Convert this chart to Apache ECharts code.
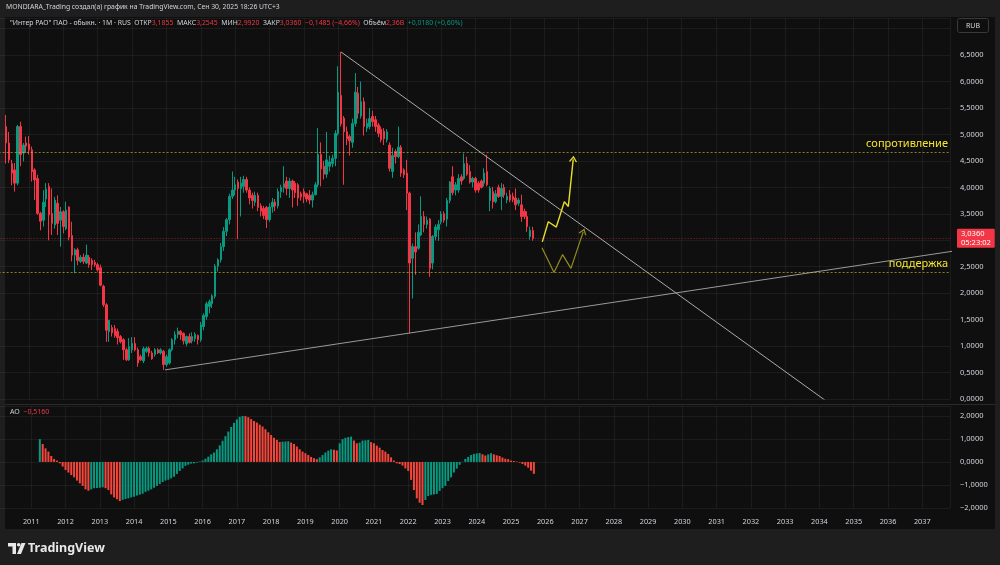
<!DOCTYPE html>
<html>
<head>
<meta charset="utf-8">
<script src="https://cdn.jsdelivr.net/npm/echarts@6/dist/echarts.min.js"></script>
<style>
  html, body { margin: 0; padding: 0; background: #1e1e1e; overflow: hidden; }
  /* сдвиг на 6px влево: сетка начинается чуть левее края окна */
  #chart { position: absolute; left: -6px; top: 0; width: 1006px; height: 565px; }
</style>
</head>
<body>
<div id="chart"></div>
<script>
// первая свеча — май 2010, шаг 1 месяц
const startYear = 2010, startMonth = 5;

const open = [
  5.15,4.84,4.45,4.33,4.08,5.15,4.65,4.84,
  4.82,4.71,4.33,4.17,3.51,3.38,3.78,4.02,3.51,3.29,3.70,3.38,
  3.54,3.22,3.63,3.09,2.72,2.82,2.60,2.68,2.57,2.68,2.62,2.58,
  2.54,2.48,2.13,1.78,1.27,1.35,1.33,1.28,1.18,1.12,0.93,0.74,
  0.93,1.05,0.93,0.80,0.72,0.90,0.96,0.87,0.84,0.93,0.87,0.90,
  0.65,0.68,0.93,1.12,1.22,1.28,1.24,1.05,1.18,1.10,1.14,1.20,
  1.12,1.37,1.56,1.75,1.80,1.94,2.51,2.63,2.88,3.17,3.39,3.83,
  3.95,4.10,3.98,4.02,4.15,3.95,3.85,3.72,3.85,3.65,3.60,3.62,
  3.39,3.63,3.72,3.65,3.92,4.00,4.12,3.98,4.12,4.08,4.05,3.88,
  3.92,3.88,3.85,3.76,3.86,4.05,4.62,4.40,4.25,4.40,4.45,4.55,
  5.02,5.74,5.31,5.05,4.96,4.85,5.21,5.78,5.35,5.62,5.12,5.15,
  5.34,5.28,5.18,5.10,5.06,4.90,4.80,4.30,4.68,4.58,4.76,4.33,
  4.27,3.89,2.66,2.88,2.85,3.10,3.45,3.30,3.40,2.57,3.07,3.20,
  3.35,3.50,3.40,3.75,4.20,3.95,3.95,4.20,4.17,4.45,4.30,4.10,
  4.17,4.08,4.12,4.08,4.30,3.75,3.92,3.73,4.00,3.83,4.00,3.76,
  3.86,3.83,3.80,3.70,3.67,3.55,3.45,3.07,3.1855
];
const high = [
  5.37,5.05,4.52,4.46,5.18,5.24,4.84,4.96,
  4.97,4.77,4.36,4.24,3.54,3.95,4.08,4.08,3.98,3.82,3.85,3.63,
  3.57,3.73,3.64,3.35,2.85,2.86,2.72,2.75,2.92,2.72,2.66,2.63,
  2.57,2.54,2.16,1.81,1.49,1.40,1.40,1.33,1.21,1.15,0.97,1.15,
  1.17,1.17,0.97,0.84,0.99,0.99,0.99,0.91,0.96,0.96,0.96,0.93,
  0.84,0.96,1.15,1.28,1.35,1.30,1.26,1.20,1.24,1.26,1.26,1.22,
  1.46,1.62,1.84,1.88,1.98,2.55,2.66,2.95,3.25,3.42,3.88,4.30,
  4.20,4.15,4.20,4.22,4.20,4.00,3.90,3.92,3.90,3.70,3.65,3.65,
  3.70,3.80,3.78,3.98,4.05,4.40,4.20,4.18,4.15,4.12,4.08,3.92,
  3.98,3.90,3.95,3.92,4.10,5.12,4.85,4.50,5.05,4.60,4.62,5.08,
  6.29,6.56,5.35,5.15,5.00,5.30,6.16,5.90,6.00,5.70,5.30,5.50,
  5.45,5.35,5.22,5.15,5.12,5.10,4.85,4.75,4.72,5.15,4.80,4.36,
  4.52,3.92,2.94,3.15,3.30,3.83,3.55,3.45,3.42,3.10,3.30,3.38,
  3.55,3.55,3.80,4.12,4.40,4.10,4.25,4.25,4.64,4.58,4.42,4.20,
  4.20,4.12,4.15,4.36,4.62,4.02,4.01,3.95,4.05,4.08,4.06,3.90,
  3.95,3.90,3.98,3.80,3.86,3.60,3.55,3.26,3.2545
];
const low = [
  4.45,4.46,4.04,3.92,4.04,4.40,4.49,4.65,
  4.62,4.11,3.76,3.48,3.19,3.26,3.63,3.00,3.10,3.22,3.10,2.88,
  3.13,3.19,3.00,2.60,2.38,2.53,2.57,2.55,2.55,2.48,2.44,2.50,
  2.41,2.13,1.74,1.08,1.08,1.18,1.16,1.03,1.05,0.74,0.72,0.72,
  0.87,0.90,0.61,0.72,0.68,0.87,0.80,0.74,0.80,0.85,0.84,0.55,
  0.61,0.65,0.90,1.03,1.15,1.12,1.03,1.00,1.05,1.05,1.08,1.03,
  1.08,1.30,1.50,1.62,1.72,1.90,2.41,2.58,2.80,3.08,3.30,3.78,
  3.85,3.02,3.45,3.90,3.90,3.68,3.60,3.65,3.55,3.45,3.40,3.23,
  3.35,3.52,3.55,3.60,3.80,3.90,3.85,3.80,3.62,3.80,3.65,3.75,
  3.70,3.72,3.68,3.62,3.85,4.00,4.02,4.15,4.18,4.30,4.38,4.40,
  4.98,5.15,4.05,4.80,4.60,4.75,5.15,5.30,5.30,4.98,5.05,5.10,
  5.15,5.05,4.95,4.85,4.80,4.85,4.30,4.18,4.45,4.55,4.20,4.18,
  3.57,1.24,1.90,2.35,2.82,3.08,3.15,3.22,2.31,2.45,3.00,2.99,
  3.30,3.33,3.26,3.70,3.85,3.85,3.90,4.05,4.14,4.22,4.07,4.00,
  3.90,3.90,3.98,4.02,4.02,3.55,3.60,3.70,3.80,3.57,3.80,3.70,
  3.72,3.72,3.57,3.65,3.35,3.40,3.16,3.01,2.992
];
const close = [
  4.84,4.52,4.27,4.08,5.15,4.62,4.80,4.78,
  4.71,4.30,4.14,3.51,3.36,3.72,3.97,3.48,3.32,3.76,3.32,3.54,
  3.26,3.57,3.06,2.72,2.82,2.62,2.68,2.60,2.72,2.54,2.54,2.54,
  2.44,2.15,1.78,1.30,1.49,1.25,1.20,1.16,1.08,0.93,0.74,0.99,
  1.05,0.93,0.68,0.74,0.95,0.96,0.87,0.76,0.93,0.87,0.93,0.65,
  0.80,0.93,1.12,1.22,1.28,1.22,1.10,1.18,1.07,1.18,1.22,1.12,
  1.40,1.58,1.80,1.84,1.95,2.51,2.63,2.88,3.17,3.39,3.83,3.95,
  4.05,3.98,4.08,4.15,3.95,3.80,3.75,3.85,3.62,3.55,3.47,3.39,
  3.63,3.72,3.65,3.92,4.00,4.07,3.98,4.12,3.95,3.90,3.80,3.82,
  3.83,3.78,3.76,3.86,4.05,4.62,4.35,4.25,4.52,4.48,4.55,5.02,
  5.80,5.20,5.05,4.92,4.88,5.21,5.80,5.40,5.62,5.15,5.21,5.30,
  5.24,5.15,5.02,4.90,4.92,5.05,4.36,4.60,4.58,4.76,4.27,4.24,
  3.89,2.57,2.88,2.78,3.15,3.45,3.30,3.38,2.47,3.07,3.25,3.30,
  3.50,3.38,3.75,4.10,3.90,4.05,4.17,4.12,4.45,4.25,4.10,4.17,
  3.95,3.95,4.00,4.27,4.05,3.98,3.73,3.88,3.83,3.98,3.86,3.83,
  3.76,3.77,3.67,3.76,3.45,3.45,3.26,3.19,3.036
];

// AO начинается с апреля 2011 (11 свечей после первой)
const aoStart = 11;
const aoValues = [
  0.99,0.78,0.59,0.45,0.26,0.13,0.06,-0.06,-0.20,
  -0.35,-0.46,-0.57,-0.67,-0.81,-0.93,-1.04,-1.19,-1.25,-1.19,-1.14,-1.13,
  -1.12,-1.10,-1.14,-1.22,-1.41,-1.54,-1.62,-1.70,-1.65,-1.61,-1.58,-1.54,
  -1.51,-1.46,-1.42,-1.38,-1.30,-1.25,-1.19,-1.12,-1.04,-0.96,-0.87,-0.81,
  -0.77,-0.71,-0.64,-0.52,-0.39,-0.28,-0.17,-0.12,-0.07,-0.06,-0.03,0.02,
  0.06,0.14,0.23,0.33,0.41,0.55,0.72,0.92,1.12,1.32,1.52,1.70,
  1.85,1.96,2.00,1.99,1.94,1.86,1.78,1.71,1.62,1.54,1.42,1.29,
  1.17,1.05,0.96,0.87,0.88,0.89,0.90,0.84,0.78,0.67,0.55,0.45,
  0.38,0.30,0.22,0.16,0.12,0.20,0.30,0.41,0.49,0.55,0.53,0.50,
  0.81,0.99,1.05,1.08,1.10,0.93,0.81,0.84,0.93,0.94,0.96,0.86,
  0.81,0.71,0.62,0.52,0.45,0.35,0.20,0.06,-0.06,-0.09,-0.16,-0.28,
  -0.39,-0.78,-1.22,-1.58,-1.77,-1.87,-1.65,-1.48,-1.43,-1.41,-1.39,-1.26,
  -1.14,-1.04,-0.83,-0.67,-0.46,-0.29,-0.12,0.01,0.13,0.22,0.30,0.35,
  0.37,0.39,0.33,0.28,0.33,0.38,0.33,0.29,0.26,0.19,0.14,0.12,
  0.06,0.04,0.02,-0.03,-0.09,-0.16,-0.25,-0.38,-0.516
];

// уровни и рисунки (x — год с долями)
const resistance = 4.66, support = 2.3905, lastPrice = 3.036;
const trendDown = [[2020.083, 6.56], [2034.317, -0.09]];
const trendUp = [[2014.958, 0.55], [2039.18, 2.92]];
const scenarioUp = [[2025.942, 2.97], [2026.117, 3.35], [2026.35, 3.25], [2026.583, 3.73], [2026.70, 3.64], [2026.842, 4.53]];
const scenarioDown = [[2025.933, 2.86], [2026.283, 2.39], [2026.533, 2.73], [2026.775, 2.47], [2027.133, 3.16]];

const UP = '#089981', DOWN = '#f23645', AO_DOWN = '#f5463b';
const TEXT = '#d1d4dc', GRIDC = 'rgba(255,255,255,0.055)';
const FONT = 'Noto Sans';
const YEL = '#f5e52e';
const DX = 6; // сдвиг контейнера

const monthX = i => startYear + (startMonth - 1 + i) / 12;
const candles = close.map((c, i) => [monthX(i), open[i], c, low[i], high[i]]);
const ao = aoValues.map((v, k) => [monthX(aoStart + k), v]);
const comma = (v, d) => v.toFixed(d).replace('.', ',').replace('-', '\u2212');

function arrowTip(pts, rot, color) {
  const d = pts.map(p => p.slice());
  const last = d.pop();
  d.push({
    value: last, symbol: 'path://M0,7L5,0L10,7', symbolSize: [7, 5], symbolRotate: rot,
    itemStyle: { color: 'rgba(0,0,0,0)', borderColor: color, borderWidth: 1.2 }
  });
  return d;
}

const xBase = {
  type: 'value', min: 2010, max: 2037.81, interval: 1,
  axisLine: { show: false }, axisTick: { show: false },
  splitLine: { show: true, lineStyle: { color: GRIDC } }
};
const yBase = {
  type: 'value', position: 'right',
  axisLine: { show: false }, axisTick: { show: false },
  splitLine: { show: true, lineStyle: { color: GRIDC } }
};

const chart = echarts.init(document.getElementById('chart'));
chart.setOption({
  animation: false,
  backgroundColor: '#0f0f0f',
  textStyle: { fontFamily: FONT },
  title: [
    {
      text: 'MONDIARA_Trading создал(а) график на TradingView.com, Сен 30, 2025 18:26 UTC+3',
      left: 6 + DX, top: 4, padding: 0,
      textStyle: { color: TEXT, fontSize: 6.8, fontWeight: 'normal', fontFamily: FONT }
    },
    {
      text: '{w|"Интер РАО" ПАО - обыкн. · 1M · RUS}  {w|ОТКР}{r|3,1855}  {w|МАКС}{r|3,2545}  {w|МИН}{r|2,9920}  {w|ЗАКР}{r|3,0360}  {r|\u22120,1485 (\u22124,66%)}  {w|Объём}{r|2,36B}  {g|+0,0180 (+0,60%)}',
      left: 10 + DX, top: 20, padding: 0,
      textStyle: {
        fontSize: 6.9, fontWeight: 'normal', color: TEXT, fontFamily: FONT,
        rich: {
          w: { color: TEXT, fontSize: 6.9, fontFamily: FONT },
          r: { color: DOWN, fontSize: 6.9, fontFamily: FONT },
          g: { color: UP, fontSize: 6.9, fontFamily: FONT }
        }
      }
    },
    {
      text: '{w|AO}  {r|\u22120,5160}',
      left: 10 + DX, top: 408, padding: 0,
      textStyle: {
        fontSize: 7, fontWeight: 'normal', fontFamily: FONT,
        rich: {
          w: { color: TEXT, fontSize: 7, fontFamily: FONT },
          r: { color: DOWN, fontSize: 7, fontFamily: FONT }
        }
      }
    }
  ],
  graphic: [
    { type: 'rect', z: -10, silent: true, shape: { x: 0, y: 0, width: 1006, height: 17 }, style: { fill: '#1e1e1e' } },
    { type: 'rect', z: -10, silent: true, shape: { x: 0, y: 529, width: 1006, height: 36 }, style: { fill: '#1e1e1e' } },
    { type: 'rect', z: -10, silent: true, shape: { x: 0, y: 0, width: 5 + DX, height: 565 }, style: { fill: '#1e1e1e' } },
    { type: 'rect', z: -10, silent: true, shape: { x: 995 + DX, y: 0, width: 5, height: 565 }, style: { fill: '#1e1e1e' } },
    { type: 'line', silent: true, shape: { x1: 5 + DX, y1: 404.5, x2: 995 + DX, y2: 404.5 }, style: { stroke: '#2a2a2a', lineWidth: 1 } },
    { type: 'rect', silent: true, shape: { x: 957.5 + DX, y: 18.5, width: 31, height: 14, r: 2 }, style: { fill: '#0f0f0f', stroke: '#3a3a3a', lineWidth: 1 } },
    { type: 'text', silent: true, x: 973 + DX, y: 25.5, style: { text: 'RUB', fill: TEXT, font: '7px "Noto Sans"', align: 'center', verticalAlign: 'middle' } },
    // логотип TradingView
    { type: 'polygon', silent: true, shape: { points: [[8 + DX, 543], [16 + DX, 543], [16 + DX, 554], [12.5 + DX, 554], [12.5 + DX, 546.5], [8 + DX, 546.5]] }, style: { fill: '#e8e8e8' } },
    { type: 'circle', silent: true, shape: { cx: 18.7 + DX, cy: 544.8, r: 1.8 }, style: { fill: '#e8e8e8' } },
    { type: 'polygon', silent: true, shape: { points: [[21.5 + DX, 543], [25.5 + DX, 543], [21 + DX, 554], [17 + DX, 554]] }, style: { fill: '#e8e8e8' } },
    { type: 'text', silent: true, x: 28 + DX, y: 548.5, style: { text: 'TradingView', fill: '#e8e8e8', font: 'bold 12.5px "Noto Sans"', verticalAlign: 'middle' } }
  ],
  grid: [
    { left: 0.65, right: 50, top: 18.1, bottom: 166 },
    { left: 0.65, right: 50, top: 406, bottom: 57 }
  ],
  xAxis: [
    Object.assign({}, xBase, { gridIndex: 0, axisLabel: { show: false } }),
    Object.assign({}, xBase, {
      gridIndex: 1,
      axisLabel: {
        show: true, color: TEXT, fontSize: 7.3, fontFamily: FONT, margin: 10, showMaxLabel: false,
        formatter: v => (v > 2010.5 && Math.abs(v - Math.round(v)) < 1e-6) ? String(Math.round(v)) : ''
      }
    })
  ],
  yAxis: [
    Object.assign({}, yBase, {
      gridIndex: 0, min: 0, max: 7.2, interval: 0.5,
      axisLabel: { color: TEXT, fontSize: 7.5, fontFamily: FONT, margin: 10, showMaxLabel: false,
        formatter: v => v > 6.9 ? '' : comma(v, 4) }
    }),
    Object.assign({}, yBase, {
      gridIndex: 1, min: -2, max: 2.43, interval: 1,
      axisLabel: { color: TEXT, fontSize: 7.5, fontFamily: FONT, margin: 10, showMaxLabel: false,
        formatter: v => v > 2.2 ? '' : comma(v, 4) }
    })
  ],
  series: [
    {
      type: 'candlestick', xAxisIndex: 0, yAxisIndex: 0, silent: true,
      data: candles, barWidth: 2,
      itemStyle: { color: UP, color0: DOWN, borderColor: UP, borderColor0: DOWN, borderWidth: 1 }
    },
    {
      // линия поддержки тренда + горизонтальные уровни
      type: 'line', xAxisIndex: 0, yAxisIndex: 0, silent: true, clip: false,
      data: trendUp, symbol: 'none', z: 4,
      lineStyle: { color: '#9a9a9a', width: 1 },
      markLine: {
        silent: true, symbol: 'none', animation: false,
        data: [
          { yAxis: resistance, lineStyle: { color: 'rgba(226,204,60,0.6)', type: [2, 2], width: 1 },
            label: { show: true, position: 'insideEndTop', formatter: 'сопротивление', color: YEL, fontSize: 11, fontFamily: FONT, distance: [2, 3] } },
          { yAxis: support, lineStyle: { color: 'rgba(226,204,60,0.6)', type: [2, 2], width: 1 },
            label: { show: true, position: 'insideEndTop', formatter: 'поддержка', color: YEL, fontSize: 11, fontFamily: FONT, distance: [2, 3] } },
          { yAxis: lastPrice, lineStyle: { color: 'rgba(242,54,69,0.55)', type: [1, 2], width: 1 },
            label: { show: true, position: 'end', distance: 7, formatter: comma(lastPrice, 4) + '\n05:23:02',
              backgroundColor: DOWN, color: '#ffffff', fontSize: 7.5, lineHeight: 9, fontFamily: FONT, padding: [1, 4, 0, 4], borderRadius: 1 } },
          { yAxis: resistance, lineStyle: { opacity: 0 },
            label: { show: true, position: 'end', distance: 7, formatter: comma(resistance, 4),
              backgroundColor: YEL, color: '#131313', fontSize: 7.5, fontFamily: FONT, padding: [1, 3, 0, 3], borderRadius: 1 } },
          { yAxis: support, lineStyle: { opacity: 0 },
            label: { show: true, position: 'end', distance: 7, formatter: comma(support, 4),
              backgroundColor: YEL, color: '#131313', fontSize: 7.5, fontFamily: FONT, padding: [1, 3, 0, 3], borderRadius: 1 } }
        ]
      }
    },
    {
      type: 'line', xAxisIndex: 0, yAxisIndex: 0, silent: true,
      data: trendDown, symbol: 'none', z: 4,
      lineStyle: { color: '#ababab', width: 1 }
    },
    {
      type: 'line', xAxisIndex: 0, yAxisIndex: 0, silent: true,
      data: arrowTip(scenarioUp, -6, '#e9dc2b'), symbol: 'none', z: 5,
      lineStyle: { color: '#e9dc2b', width: 1.4 }
    },
    {
      type: 'line', xAxisIndex: 0, yAxisIndex: 0, silent: true,
      data: arrowTip(scenarioDown, -19, '#958a22'), symbol: 'none', z: 5,
      lineStyle: { color: '#958a22', width: 1.2 }
    },
    {
      type: 'bar', xAxisIndex: 1, yAxisIndex: 1, silent: true,
      data: ao, barWidth: 2,
      itemStyle: {
        color: p => (p.dataIndex === 0 || aoValues[p.dataIndex] > aoValues[p.dataIndex - 1]) ? UP : AO_DOWN
      }
    }
  ]
});
</script>
</body>
</html>
